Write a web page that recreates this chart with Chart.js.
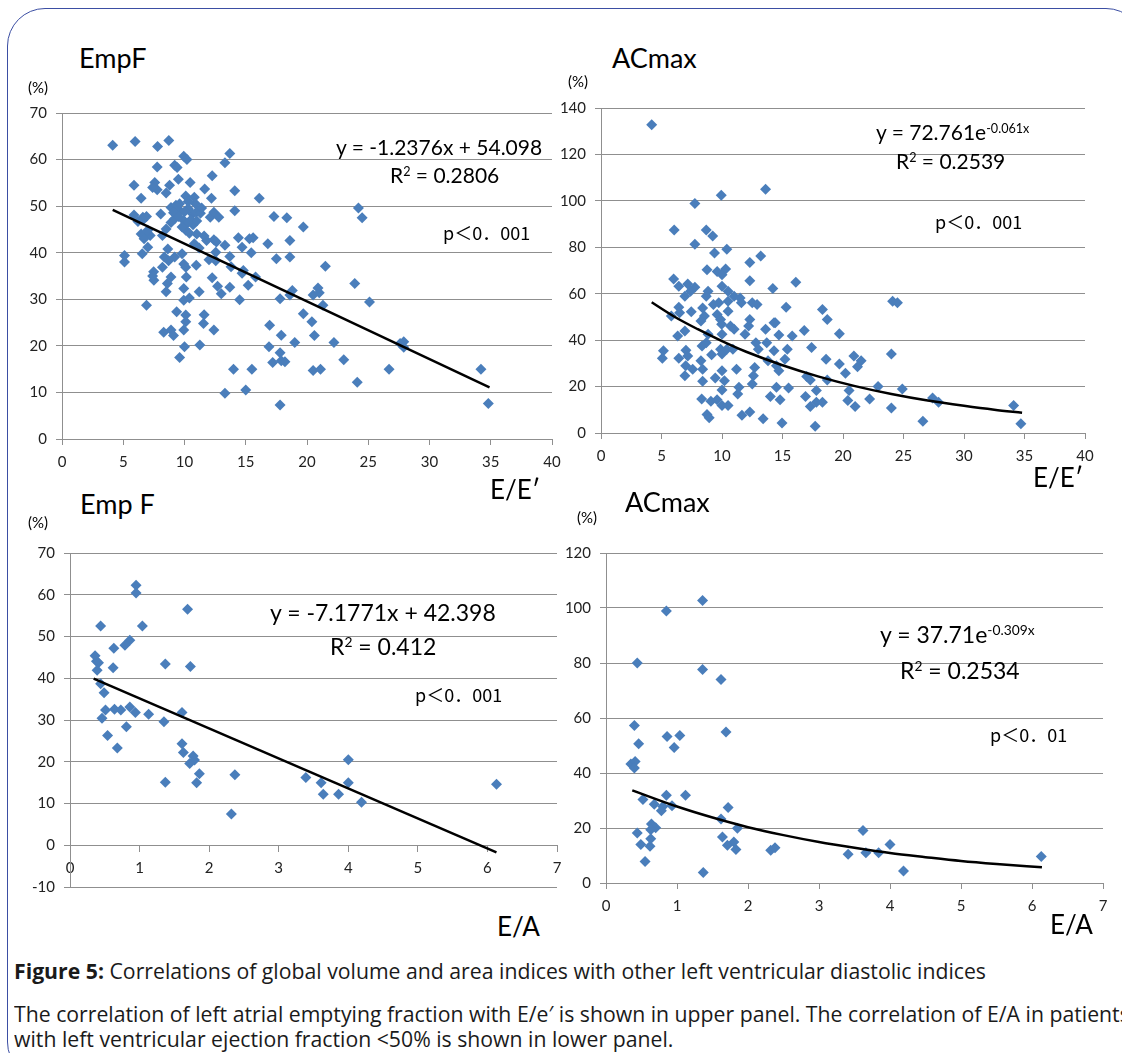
<!DOCTYPE html>
<html>
<head>
<meta charset="utf-8">
<script src="https://cdn.jsdelivr.net/npm/chart.js@4.4.1/dist/chart.umd.min.js"></script>
<style>
  body { margin: 0; background: #fff; width: 1122px; height: 1053px; overflow: hidden; position: relative; font-family: Lato, sans-serif; }
  .frame { position: absolute; left: 7px; top: 8px; width: 1135px; height: 1070px; border: 1.5px solid #3b4ea3; border-radius: 38px; }
  canvas { position: absolute; }
  .t { position: absolute; line-height: 1; white-space: nowrap; color: #000; }
  .title { font-size: 27px; }
  .pct { font-size: 15px; }
  .eq { font-size: 21px; }
  .eqb { font-size: 23px; }
  .p { font-size: 18px; font-family: "Noto Sans CJK JP", sans-serif; }
  .ax { font-size: 26px; }
  sup { font-size: 0.6em; vertical-align: 0.55em; line-height: 0; }
  .cap { position: absolute; left: 14px; font-family: "Open Sans", sans-serif; font-size: 22px; color: #1a1a1a; white-space: nowrap; transform-origin: 0 0; transform: scaleX(0.965); line-height: 1; }
</style>
</head>
<body>
<div class="frame"></div>

<canvas id="tl"></canvas>
<canvas id="tr"></canvas>
<canvas id="bl"></canvas>
<canvas id="br"></canvas>

<!-- upper left -->
<div class="t title" style="left:79px;top:44px">EmpF</div>
<div class="t pct" style="left:28px;top:80px">(%)</div>
<div class="t eq" style="left:336px;top:136px">y = -1.2376x + 54.098</div>
<div class="t eq" style="left:390px;top:164px">R<sup>2</sup> = 0.2806</div>
<div class="t p" style="left:443px;top:223px">p＜0．001</div>
<div class="t ax" style="left:490px;top:476px">E/E′</div>

<!-- upper right -->
<div class="t title" style="left:612px;top:44px">ACmax</div>
<div class="t pct" style="left:568px;top:74px">(%)</div>
<div class="t eq" style="left:876px;top:121px">y = 72.761e<sup>-0.061x</sup></div>
<div class="t eq" style="left:896px;top:150px">R<sup>2</sup> = 0.2539</div>
<div class="t p" style="left:935px;top:212px">p＜0．001</div>
<div class="t ax" style="left:1033px;top:464px">E/E′</div>

<!-- lower left -->
<div class="t title" style="left:80px;top:490px">Emp F</div>
<div class="t pct" style="left:28px;top:515px">(%)</div>
<div class="t eqb" style="left:270px;top:601px">y = -7.1771x + 42.398</div>
<div class="t eqb" style="left:330px;top:635px">R<sup>2</sup> = 0.412</div>
<div class="t p" style="left:415px;top:685px">p＜0．001</div>
<div class="t ax" style="left:497px;top:913px">E/A</div>

<!-- lower right -->
<div class="t title" style="left:625px;top:488px">ACmax</div>
<div class="t pct" style="left:577px;top:510px">(%)</div>
<div class="t eqb" style="left:880px;top:623px">y = 37.71e<sup>-0.309x</sup></div>
<div class="t eqb" style="left:900px;top:659px">R<sup>2</sup> = 0.2534</div>
<div class="t p" style="left:990px;top:725px">p＜0．01</div>
<div class="t ax" style="left:1050px;top:911px">E/A</div>

<div class="cap" style="top:959px"><b>Figure 5:</b> Correlations of global volume and area indices with other left ventricular diastolic indices</div>
<div class="cap" style="top:1002px">The correlation of left atrial emptying fraction with E/e′ is shown in upper panel. The correlation of E/A in patients</div>
<div class="cap" style="top:1027px">with left ventricular ejection fraction &lt;50% is shown in lower panel.</div>

<script>
// EmpF vs E/E'
var empfEeX = [4.14, 5.97, 7.8, 8.72, 9.94, 10.2, 13.7, 13.3, 12.26, 5.88, 7.77, 7.57, 8.78, 9.2, 9.4, 9.5, 10.46, 11.65, 14.1, 6.46,
  12.2, 16.1, 7.77, 7.4, 10.1, 10.8, 8.5, 5.88, 8.06, 8.9, 9.65, 9.2, 9.94, 10.1, 10.67, 10.96, 6.6, 6.9, 6.46, 6.75,
  7.2, 6.55, 7.0, 8.5, 8.2, 12.1, 12.4, 12.8, 12.4, 11.8, 11.0, 10.8, 8.64, 12.55, 14.1, 14.4, 14.7, 15.3, 15.45, 13.7,
  16.8, 17.3, 18.35, 18.6, 19.7, 17.5, 18.6, 24.2, 24.5, 21.5, 5.1, 5.1, 7.48, 7.5, 8.2, 8.35, 9.2, 9.8, 9.94, 10.1,
  10.96, 10.15, 8.9, 8.6, 8.5, 9.94, 11.2, 10.4, 9.94, 12.26, 12.7, 13.0, 13.7, 14.5, 14.8, 15.2, 15.8, 12.55, 17.8, 18.6,
  18.8, 20.5, 20.9, 21.0, 21.3, 23.9, 25.1, 6.9, 9.36, 10.1, 10.1, 9.94, 11.6, 11.55, 12.4, 8.3, 8.9, 9.1, 10.0, 11.25,
  9.6, 16.95, 16.9, 17.9, 19.7, 20.4, 20.6, 19.0, 22.2, 17.8, 17.2, 17.9, 18.2, 23.0, 27.6, 27.9, 27.9, 14.0, 15.5, 20.5,
  21.1, 26.7, 24.1, 34.2, 34.8, 13.3, 15.0, 17.8, 9.3, 9.6, 10.3, 10.5, 10.7, 10.2, 9.8, 10.4, 9.1, 8.9, 10.9, 11.3,
  11.0, 9.5, 10.0, 10.3, 11.4, 12.6, 13.3, 11.2, 11.6, 6.2, 7.0, 7.4, 8.7, 12.0, 13.8, 14.7, 15.6, 6.7, 6.6];
var empfEeY = [63.1, 63.9, 62.8, 64.1, 60.7, 60.0, 61.3, 59.3, 56.5, 54.5, 58.4, 55.1, 54.5, 58.8, 58.3, 55.8, 55.1, 53.7, 53.3, 51.7,
  51.7, 51.7, 53.5, 54.0, 52.2, 51.9, 52.8, 48.1, 48.3, 49.7, 49.0, 47.3, 46.9, 44.8, 48.3, 48.7, 47.6, 47.8, 44.0, 43.7,
  43.7, 39.8, 41.2, 45.1, 43.7, 47.6, 48.7, 47.6, 42.8, 42.6, 44.0, 41.9, 40.8, 40.1, 49.0, 43.2, 41.2, 43.0, 40.0, 39.2,
  41.9, 47.8, 47.5, 42.6, 45.5, 38.7, 39.1, 49.6, 47.5, 37.1, 39.4, 38.0, 35.9, 34.1, 36.9, 39.1, 39.1, 39.8, 37.6, 36.9,
  37.3, 34.8, 34.8, 33.4, 31.6, 32.3, 31.6, 30.3, 29.8, 34.6, 32.8, 31.2, 32.6, 29.9, 36.2, 33.0, 34.8, 38.3, 30.1, 30.9,
  31.9, 30.9, 32.4, 31.4, 28.7, 33.4, 29.4, 28.7, 27.3, 26.6, 25.2, 23.4, 26.7, 24.8, 23.4, 22.9, 23.4, 22.2, 19.8, 20.2,
  17.5, 24.4, 19.8, 22.3, 26.9, 25.2, 22.2, 20.7, 20.7, 18.5, 16.4, 16.8, 16.6, 17.0, 20.5, 19.7, 20.9, 15.0, 15.0, 14.7,
  15.0, 15.0, 12.2, 15.0, 7.6, 9.8, 10.5, 7.3, 50.2, 50.5, 49.5, 47.0, 46.0, 46.2, 45.5, 44.2, 48.6, 46.5, 50.5, 48.5,
  46.8, 47.8, 48.8, 51.0, 49.6, 42.3, 41.6, 41.0, 43.6, 46.7, 44.8, 35.0, 38.3, 38.5, 37.0, 35.6, 43.2, 43.0, 47.0];
var empfEeTrendX = [4.14, 34.9];
var empfEeTrendY = [49.2, 11.1];

// ACmax vs E/E'
var acmaxEeX = [4.19, 13.6, 9.94, 7.76, 6.05, 8.7, 9.23, 7.76, 10.4, 13.2, 12.3, 9.38, 8.76, 9.6, 10.3, 10.0, 12.3, 16.1, 6.0, 14.2,
  6.43, 7.17, 7.76, 7.4, 6.93, 8.85, 8.7, 10.0, 10.5, 11.0, 11.5, 10.5, 9.73, 9.29, 12.5, 12.9, 11.6, 15.3, 6.43, 6.5,
  7.46, 8.4, 8.55, 8.26, 9.6, 9.88, 9.97, 10.5, 12.3, 12.2, 14.3, 10.7, 11.0, 5.81, 6.34, 6.93, 8.35, 8.7, 8.85, 9.88,
  10.0, 10.4, 10.9, 10.0, 11.9, 13.6, 14.4, 14.7, 15.8, 16.8, 17.4, 12.8, 13.7, 13.0, 14.3, 15.4, 13.8, 15.2, 12.7, 14.5,
  14.7, 11.2, 9.14, 8.26, 7.02, 7.17, 6.43, 5.16, 5.07, 7.0, 7.58, 6.93, 8.4, 8.4, 9.44, 10.2, 10.0, 10.0, 11.4, 11.3,
  12.5, 12.6, 14.5, 15.5, 14.0, 14.8, 17.0, 17.3, 16.9, 17.3, 17.8, 17.8, 18.3, 18.6, 18.7, 18.3, 18.7, 19.7, 19.7, 20.2,
  20.5, 20.4, 20.9, 21.5, 21.2, 21.0, 22.2, 22.9, 24.0, 24.0, 24.1, 24.5, 24.9, 26.6, 27.4, 27.9, 34.1, 34.7, 11.65, 12.3,
  13.4, 14.96, 17.7, 8.76, 8.94, 9.08, 9.59, 10.0, 8.32, 10.5];
var acmaxEeY = [132.8, 105.0, 102.4, 98.9, 87.4, 87.4, 84.9, 81.3, 79.2, 76.3, 73.5, 77.5, 70.3, 69.6, 70.6, 68.2, 65.6, 64.9, 66.3, 62.2,
  63.2, 64.2, 62.8, 61.1, 58.9, 61.1, 58.9, 63.2, 61.1, 58.9, 58.2, 56.8, 56.1, 55.4, 56.1, 55.4, 56.1, 54.2, 54.2, 51.8,
  52.2, 53.9, 50.4, 48.2, 51.1, 48.9, 46.8, 52.5, 48.9, 46.1, 47.5, 46.1, 44.7, 50.4, 41.8, 43.9, 37.5, 38.9, 42.5, 36.1,
  34.0, 36.1, 36.1, 42.5, 42.5, 44.7, 47.5, 42.2, 41.8, 44.2, 36.8, 38.9, 38.9, 36.1, 35.4, 36.1, 31.1, 31.8, 28.2, 29.0,
  26.8, 27.5, 33.7, 31.1, 35.7, 33.2, 32.2, 35.4, 32.2, 29.0, 27.5, 24.7, 27.5, 22.3, 23.7, 22.5, 26.8, 18.5, 19.7, 16.8,
  21.1, 24.7, 19.7, 19.4, 15.7, 14.3, 24.3, 22.8, 15.7, 11.4, 18.3, 13.3, 13.3, 31.8, 22.8, 53.2, 48.9, 42.8, 29.7, 25.7,
  18.3, 14.0, 33.2, 31.1, 28.5, 11.4, 14.7, 20.0, 34.0, 10.8, 56.8, 56.1, 19.0, 5.1, 15.1, 13.3, 11.8, 4.0, 7.6, 9.0,
  6.1, 4.3, 2.9, 8.0, 6.6, 13.7, 14.3, 11.8, 14.7, 11.8];
var acmaxEeTrendX = [4.19, 6, 8, 10, 12, 15, 18, 21, 24, 27, 30, 32.5, 34.8];
var acmaxEeTrendY = [56.3, 50.3, 44.7, 39.6, 35.0, 29.2, 24.3, 20.2, 16.8, 14.0, 11.7, 10.0, 8.7];

// EmpF vs E/A
var empfEaX = [0.95, 0.95, 1.69, 0.44, 1.04, 0.86, 0.79, 0.63, 0.36, 0.38, 0.41, 0.39, 0.62, 1.37, 1.73, 0.44, 0.49, 0.51, 0.64, 0.73,
  0.86, 0.94, 1.13, 1.61, 0.46, 1.35, 0.81, 0.54, 0.68, 1.61, 1.63, 1.77, 1.79, 1.72, 1.86, 1.82, 1.37, 2.37, 2.32, 3.39,
  3.61, 3.64, 3.86, 4.0, 4.0, 4.19, 6.13];
var empfEaY = [62.3, 60.4, 56.5, 52.5, 52.5, 49.1, 47.9, 47.2, 45.4, 44.1, 43.7, 41.9, 42.5, 43.4, 42.8, 38.7, 36.5, 32.4, 32.6, 32.4,
  33.1, 31.8, 31.4, 31.8, 30.4, 29.6, 28.4, 26.3, 23.3, 24.3, 22.2, 21.4, 20.4, 19.6, 17.1, 15.0, 15.1, 16.9, 7.5, 16.2,
  15.0, 12.2, 12.2, 20.5, 15.0, 10.3, 14.6];
var empfEaTrendX = [0.34, 6.13];
var empfEaTrendY = [39.9, -1.7];

// ACmax vs E/A
var acmaxEaX = [1.36, 0.85, 0.44, 1.36, 1.62, 0.40, 1.69, 0.46, 0.86, 1.04, 0.96, 0.35, 0.41, 0.40, 0.85, 1.12, 0.52, 0.68, 0.93, 0.80,
  1.72, 0.78, 0.64, 0.70, 0.63, 0.44, 1.62, 1.85, 3.62, 1.64, 1.80, 1.71, 1.83, 0.49, 0.62, 0.63, 2.32, 2.38, 3.41, 3.66,
  3.84, 4.0, 4.19, 6.13, 0.55, 1.37];
var acmaxEaY = [102.7, 98.9, 80.0, 77.6, 74.0, 57.3, 54.9, 50.6, 53.3, 53.6, 49.3, 43.3, 44.2, 41.8, 31.9, 31.9, 30.4, 28.6, 28.1, 27.8,
  27.5, 26.3, 21.5, 20.1, 19.4, 18.2, 23.3, 19.9, 19.1, 16.7, 14.9, 13.7, 12.2, 14.0, 13.4, 16.1, 11.9, 12.8, 10.5, 11.0,
  11.0, 14.0, 4.4, 9.6, 7.8, 3.8];
var acmaxEaTrendX = [0.37, 1, 1.5, 2, 2.5, 3, 3.5, 4, 4.5, 5, 5.5, 6.14];
var acmaxEaTrendY = [33.7, 27.8, 23.8, 20.3, 17.4, 14.9, 12.8, 10.9, 9.4, 8.0, 6.9, 5.7];

var eeTicks = [0, 5, 10, 15, 20, 25, 30, 35, 40];
var eaTicks = [0, 1, 2, 3, 4, 5, 6, 7];

var pointBlue = '#4a7ebb';
var gridGray = '#8f8f8f';
var tickFont = { family: 'Lato', size: 15 };
var Y_W = 40, X_H = 30;

function pairs(xs, ys) {
    return xs.map(function (x, i) { return { x: x, y: ys[i] }; });
}

function makePanel(id, box, area, opts) {
    var cv = document.getElementById(id);
    cv.style.left = box.left + 'px';
    cv.style.top = box.top + 'px';
    cv.style.width = box.width + 'px';
    cv.style.height = box.height + 'px';
    cv.width = box.width;
    cv.height = box.height;

    var padBottom = box.top + box.height - area.bottom - (opts.xAtZero ? 0 : X_H);

    var xScale = {
        type: 'linear',
        min: opts.xMin, max: opts.xMax,
        afterBuildTicks: function (s) { s.ticks = opts.xTicks.map(function (v) { return { value: v }; }); },
        afterFit: function (s) { s.height = opts.xAtZero ? 0 : X_H; },
        grid: { drawOnChartArea: false, drawTicks: true, tickLength: 6, color: gridGray },
        border: { display: true, color: gridGray, width: 1 },
        ticks: { font: tickFont, color: '#222', padding: 8, maxRotation: 0 }
    };
    if (opts.xAtZero) xScale.position = { y: 0 };

    return new Chart(cv, {
        type: 'scatter',
        data: {
            datasets: [{
                data: pairs(opts.xs, opts.ys),
                pointStyle: 'rectRot',
                pointRadius: 5.5,
                pointBorderWidth: 0,
                backgroundColor: pointBlue,
                borderColor: pointBlue,
                order: 2
            }, {
                type: 'line',
                data: pairs(opts.tx, opts.ty),
                borderColor: '#000',
                borderWidth: 2.5,
                pointRadius: 0,
                tension: 0.4,
                cubicInterpolationMode: 'monotone',
                fill: false,
                order: 1
            }]
        },
        options: {
            responsive: false,
            animation: false,
            layout: {
                padding: {
                    left: area.left - box.left - Y_W,
                    top: area.top - box.top,
                    right: box.left + box.width - area.right,
                    bottom: padBottom
                }
            },
            plugins: { legend: { display: false }, tooltip: { enabled: false } },
            scales: {
                x: xScale,
                y: {
                    type: 'linear',
                    min: opts.yMin, max: opts.yMax,
                    afterFit: function (s) { s.width = Y_W; },
                    grid: { color: gridGray, lineWidth: 1, drawTicks: true, tickLength: 6 },
                    border: { display: true, color: gridGray },
                    ticks: { stepSize: opts.yStep, font: tickFont, color: '#222', padding: 9 }
                }
            }
        }
    });
}

makePanel('tl', { left: 0, top: 95, width: 580, height: 385 }, { left: 62, top: 111, right: 552, bottom: 439 },
    { xs: empfEeX, ys: empfEeY, tx: empfEeTrendX, ty: empfEeTrendY, xMin: 0, xMax: 40, xTicks: eeTicks, yMin: 0, yMax: 70, yStep: 10 });
makePanel('tr', { left: 550, top: 90, width: 572, height: 385 }, { left: 601, top: 105, right: 1085, bottom: 433 },
    { xs: acmaxEeX, ys: acmaxEeY, tx: acmaxEeTrendX, ty: acmaxEeTrendY, xMin: 0, xMax: 40, xTicks: eeTicks, yMin: 0, yMax: 140, yStep: 20 });
makePanel('bl', { left: 0, top: 535, width: 580, height: 370 }, { left: 70, top: 548, right: 557, bottom: 888 },
    { xs: empfEaX, ys: empfEaY, tx: empfEaTrendX, ty: empfEaTrendY, xMin: 0, xMax: 7, xTicks: eaTicks, yMin: -10, yMax: 70, yStep: 10, xAtZero: true });
makePanel('br', { left: 560, top: 535, width: 562, height: 385 }, { left: 606, top: 548, right: 1103, bottom: 883 },
    { xs: acmaxEaX, ys: acmaxEaY, tx: acmaxEaTrendX, ty: acmaxEaTrendY, xMin: 0, xMax: 7, xTicks: eaTicks, yMin: 0, yMax: 120, yStep: 20 });
</script>
</body>
</html>
